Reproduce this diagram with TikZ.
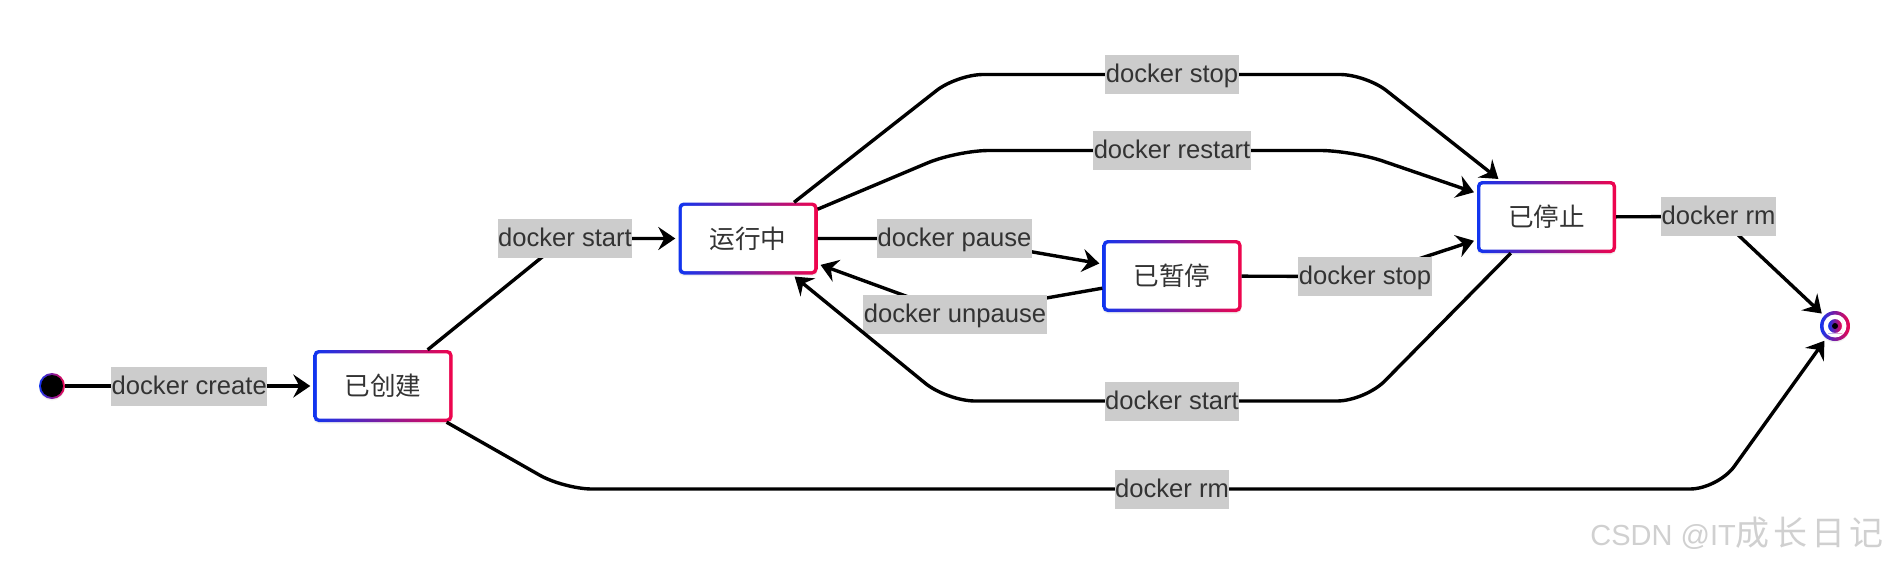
\documentclass[tikz,border=0pt]{standalone}
\usepackage{fontspec}
\setmainfont{Liberation Sans}
\newfontfamily\cjk{Noto Sans CJK SC}
\usetikzlibrary{arrows.meta,shadows}
\definecolor{bl}{HTML}{1035F0}
\definecolor{rd}{HTML}{F0044C}
\definecolor{txt}{HTML}{333333}
\definecolor{lblbg}{HTML}{CCCCCC}
\definecolor{wm}{HTML}{D0D0D0}
\tikzset{
  softshadow/.style={drop shadow={opacity=0.12, shadow xshift=0pt, shadow yshift=-1.5pt}},
  statebox/.style={rectangle, rounded corners=5pt, minimum width=139pt, minimum height=72pt,
    inner sep=0pt, text=txt, font=\cjk\fontsize{25.6}{30}\selectfont, softshadow,
    path picture={
      \shade[left color=bl, right color=rd] (path picture bounding box.south west) rectangle (path picture bounding box.north east);
      \fill[white, rounded corners=3pt] ([xshift=3.3pt,yshift=3.3pt]path picture bounding box.south west) rectangle ([xshift=-3.3pt,yshift=-3.3pt]path picture bounding box.north east);
    }},
  startdot/.style={circle, minimum size=26pt, inner sep=0pt, softshadow,
    path picture={
      \shade[left color=bl, right color=rd] (path picture bounding box.south west) rectangle (path picture bounding box.north east);
      \fill[black] (path picture bounding box.center) circle[radius=11pt];
    }},
  enddot/.style={circle, minimum size=30pt, inner sep=0pt, softshadow,
    path picture={
      \shade[left color=bl, right color=rd] (path picture bounding box.south west) rectangle (path picture bounding box.north east);
      \fill[white] (path picture bounding box.center) circle[radius=11.5pt];
      \shade[left color=bl, right color=rd] ([xshift=-7pt,yshift=-7pt]path picture bounding box.center) rectangle ([xshift=7pt,yshift=7pt]path picture bounding box.center);
      \fill[white, even odd rule] ([xshift=-7.5pt,yshift=-7.5pt]path picture bounding box.center) rectangle ([xshift=7.5pt,yshift=7.5pt]path picture bounding box.center) (path picture bounding box.center) circle[radius=7pt];
      \fill[black] (path picture bounding box.center) circle[radius=3pt];
    }},
  edge/.style={draw=black, line width=3.4pt, -{Stealth[length=17pt, width=23pt, inset=6pt]}, shorten >=3pt},
  lbl/.style={sharp corners, fill=lblbg, text=txt, font=\fontsize{25.6}{30}\selectfont, inner xsep=0.5pt,
    inner ysep=0pt, minimum height=39pt, text height=20pt, text depth=4pt},
}
\begin{document}
\begin{tikzpicture}[x=1pt,y=-1pt]
\useasboundingbox (0,0) rectangle (1892,570);

% states
\node[startdot] (start) at (52,386) {};
\node[statebox] (created) at (383,386) {已创建};
\node[statebox] (running) at (748,238.5) {运行中};
\node[statebox] (paused) at (1172,276) {已暂停};
\node[statebox] (stopped) at (1546.5,217) {已停止};
\node[enddot] (endc) at (1835,326) {};

% waypoints
\coordinate (wStart) at (565,238.5);
\coordinate (wStopA) at (957,74.5);
\coordinate (wStopL) at (1172,74.5);
\coordinate (wStopB) at (1366,74.5);
\coordinate (wRstA) at (957,150.5);
\coordinate (wRstL) at (1172,150.5);
\coordinate (wRstB) at (1352,150.5);
\coordinate (wPause) at (954.5,238.5);
\coordinate (wUnpause) at (955,314);
\coordinate (wStop2) at (1365,276.5);
\coordinate (wBsA) at (1365,401);
\coordinate (wBsL) at (1172,401);
\coordinate (wBsB) at (947,401);
\coordinate (wRmA) at (564,489);
\coordinate (wRmL) at (1172,489);
\coordinate (wRmB) at (1718,489);
\coordinate (wRm2) at (1718.5,216.5);

% connectors
\draw[edge] (start) -- node[lbl] {docker create} (created);
\draw[edge] (created) -- (wStart) node[lbl] {docker start} -- (running);
\draw[edge, rounded corners=26pt] (running) -- (wStopA) -- (wStopL) node[lbl] {docker stop} -- (wStopB) -- (stopped);
\draw[edge, rounded corners=32pt] (running) -- (wRstA) -- (wRstL) node[lbl] {docker restart} -- (wRstB) -- (stopped);
\draw[edge] (running) -- (wPause) node[lbl] {docker pause} -- (paused);
\draw[edge] (paused) -- (wUnpause) node[lbl] {docker unpause} -- (running);
\draw[edge] (paused) -- (wStop2) node[lbl] {docker stop} -- (stopped);
\draw[edge, rounded corners=28pt] (stopped) -- (wBsA) -- (wBsL) node[lbl] {docker start} -- (wBsB) -- (running);
\draw[edge, rounded corners=28pt] (created) -- (wRmA) -- (wRmL) node[lbl] {docker rm} -- (wRmB) -- (endc);
\draw[edge] (stopped) -- (wRm2) node[lbl] {docker rm} -- (endc);

% watermark
\node[anchor=base east, text=wm, inner sep=0pt, font=\fontsize{29}{32}\selectfont] (wmark) at (1884,545)
  {CSDN @IT{\cjk\fontsize{34}{36}\selectfont 成\kern4pt 长\kern4pt 日\kern4pt 记}};
\end{tikzpicture}
\end{document}
